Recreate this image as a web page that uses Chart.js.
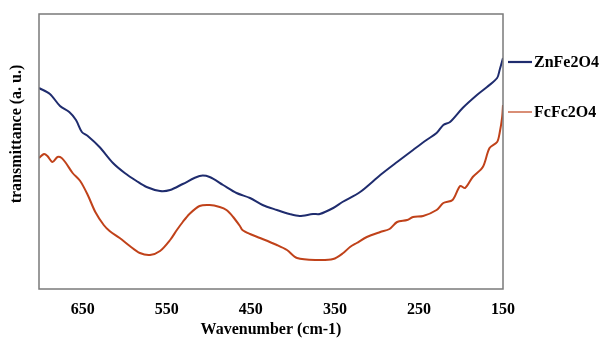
<!DOCTYPE html>
<html>
<head>
<meta charset="utf-8">
<script src="https://cdn.jsdelivr.net/npm/chart.js@4.4.1/dist/chart.umd.min.js"></script>
<style>
  html, body { margin: 0; padding: 0; background: #fff; }
</style>
</head>
<body>
<canvas id="ChartFTIR" width="600" height="338"></canvas>
<script>
// wavenumber (cm-1) / transmittance (a. u.)
var znWave = [702, 689, 677, 666, 658, 651, 644, 630, 614, 600, 586, 574, 558, 546, 531, 511, 499, 483, 467, 451, 436, 419, 404, 392, 376, 368, 352, 341, 320, 296, 276, 257, 241, 229, 221, 213, 198, 181, 169, 157, 154, 150];
var znTrans = [201, 195, 183, 177, 169, 157, 153, 142, 126, 116, 108, 102, 98, 99, 105, 113, 112, 104, 96, 91, 84, 79, 75, 73, 75, 75, 81, 87, 97, 114, 127, 139, 149, 156, 164, 167, 181, 194, 202, 211, 219, 231];

var fcWave = [702, 696, 692, 686, 680, 675, 670, 662, 653, 644, 635, 625, 618, 606, 594, 582, 570, 558, 546, 538, 531, 523, 511, 499, 487, 479, 471, 463, 460, 451, 439, 419, 407, 395, 371, 352, 340, 332, 324, 312, 296, 285, 276, 264, 257, 245, 229, 221, 210, 201, 195, 186, 174, 166, 157, 154, 151, 150];
var fcTrans = [131, 135, 133, 127, 132, 131, 126, 116, 108, 94, 77, 64, 58, 51, 43, 36, 34, 38, 49, 59, 67, 75, 83, 84, 82, 79, 72, 63, 59, 55, 51, 44, 39, 31, 29, 30, 36, 42, 46, 52, 57, 60, 67, 69, 72, 73, 79, 86, 89, 103, 101, 112, 122, 141, 147, 156, 172, 184];

var seriesNames = ['ZnFe2O4', 'FcFc2O4'];
var seriesColors = ['#1F2C6E', '#C0421A'];
var xTicks = [650, 550, 450, 350, 250, 150];
var yTitle = 'transmittance (a. u.)';

function toPoints(xs, ys) {
    var pts = [];
    for (var i = 0; i < xs.length; i++) {
        pts.push({x: xs[i], y: ys[i]});
    }
    return pts;
}

var serif = 'Liberation Serif, Times New Roman, serif';

// рамка вокруг области графика
var framePlugin = {
    id: 'frame',
    afterDatasetsDraw: function(chart) {
        var a = chart.chartArea, ctx = chart.ctx;
        ctx.save();
        ctx.strokeStyle = '#7a7a7a';
        ctx.lineWidth = 1.5;
        ctx.strokeRect(a.left, a.top, a.right - a.left, a.bottom - a.top);
        ctx.restore();
    }
};

// подпись оси Y (в оригинале сдвинута вверх от центра)
var yTitlePlugin = {
    id: 'yTitle',
    afterDraw: function(chart) {
        var a = chart.chartArea, ctx = chart.ctx;
        ctx.save();
        ctx.translate(17, a.top + 120);
        ctx.rotate(-Math.PI / 2);
        ctx.font = 'bold 16px ' + serif;
        ctx.fillStyle = '#000';
        ctx.textAlign = 'center';
        ctx.textBaseline = 'middle';
        ctx.fillText(yTitle, 0, 0);
        ctx.restore();
    }
};

// легенда справа, как в Excel
var legendPlugin = {
    id: 'sideLegend',
    afterDraw: function(chart) {
        var a = chart.chartArea, ctx = chart.ctx;
        var rows = [a.top + 48, a.top + 98];
        var widths = [2.2, 1.2];
        ctx.save();
        ctx.font = 'bold 16px ' + serif;
        ctx.textBaseline = 'middle';
        ctx.fillStyle = '#000';
        chart.data.datasets.forEach(function(ds, i) {
            ctx.strokeStyle = ds.borderColor;
            ctx.lineWidth = widths[i];
            ctx.beginPath();
            ctx.moveTo(a.right + 5, rows[i]);
            ctx.lineTo(a.right + 29, rows[i]);
            ctx.stroke();
            ctx.fillText(ds.label, a.right + 31, rows[i] + 1);
        });
        ctx.restore();
    }
};

var FtirCanvas = document.getElementById('ChartFTIR');

var FtirChart = new Chart(FtirCanvas, {
    type: 'line',
    data: {
        datasets: [
            {
                label: seriesNames[0],
                data: toPoints(znWave, znTrans),
                borderColor: seriesColors[0],
                borderWidth: 2,
                pointRadius: 0,
                tension: 0.3,
                fill: false
            },
            {
                label: seriesNames[1],
                data: toPoints(fcWave, fcTrans),
                borderColor: seriesColors[1],
                borderWidth: 2,
                pointRadius: 0,
                tension: 0.3,
                fill: false
            }]
    },
    options: {
        responsive: false,
        animation: false,
        layout: { padding: { top: 14, right: 97, left: 0, bottom: 0 } },
        plugins: {
            legend: { display: false },
            tooltip: { enabled: false }
        },
        scales: {
            x: {
                type: 'linear',
                reverse: true,
                min: 150,
                max: 702,
                afterBuildTicks: function(scale) {
                    scale.ticks = xTicks.map(function(v) { return {value: v}; });
                },
                afterFit: function(scale) {
                    scale.height = 49;
                },
                grid: { display: false, drawTicks: false },
                border: { display: false },
                ticks: {
                    color: '#000',
                    padding: 11,
                    maxRotation: 0,
                    autoSkip: false,
                    font: { family: serif, size: 16, weight: 'bold' }
                },
                title: {
                    display: true,
                    text: 'Wavenumber (cm-1)',
                    color: '#000',
                    padding: { top: 0, bottom: 0 },
                    font: { family: serif, size: 16, weight: 'bold', lineHeight: 1 }
                }
            },
            y: {
                min: 0,
                max: 275,
                afterFit: function(scale) {
                    scale.width = 39;
                },
                grid: { display: false, drawTicks: false },
                border: { display: false },
                ticks: { display: false },
                title: { display: false }
            }
        }
    },
    plugins: [framePlugin, yTitlePlugin, legendPlugin]
});
</script>
</body>
</html>
